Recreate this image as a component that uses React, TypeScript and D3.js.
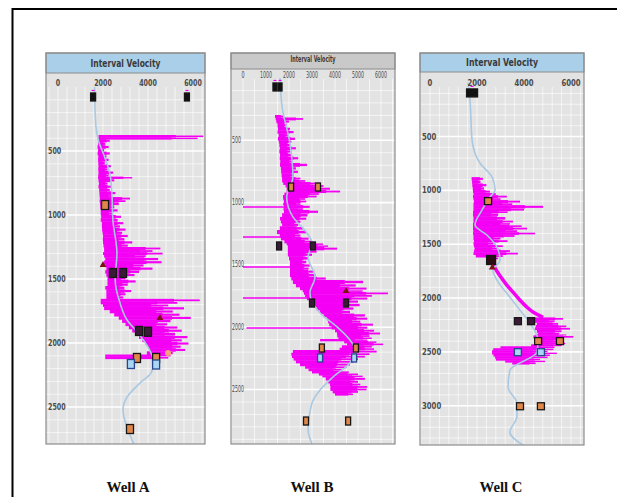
import React from 'react';
import * as d3 from 'd3';

type Pt = [number, number];           // [depth, velocity]
type Band = [number, number, number]; // [depth, low velocity, high velocity]
type Mark = [number, number, string]; // [depth, velocity, kind]

// ---- data ----
const wellNames = ['Well A', 'Well B', 'Well C'];
const panelTitle = 'Interval Velocity';
const velocityTicksAC = [0, 2000, 4000, 6000];
const velocityTicksB = [0, 1000, 2000, 3000, 4000, 5000, 6000];
const depthTicksAB = [500, 1000, 1500, 2000, 2500];
const depthTicksC = [500, 1000, 1500, 2000, 2500, 3000];

// Well A
const wellATrend: Pt[] = [
  [0, 1620], [300, 1680], [420, 1800], [550, 2080], [700, 2330], [850, 2400], [1040, 2440],
  [1300, 2620], [1500, 2540], [1690, 2760], [1820, 3070], [1922, 3560], [2031, 4000],
  [2150, 4250], [2230, 4150], [2313, 3640], [2422, 3070], [2523, 2890], [2680, 3110], [2820, 3450],
];
const wellABand: Band[] = [
  [375, 1800, 6450], [392, 1790, 6200], [408, 1780, 2300], [430, 1780, 2100], [455, 1760, 2250],
  [480, 1780, 2050], [505, 1760, 2300], [530, 1790, 2150], [555, 1780, 2250], [580, 1790, 2080],
  [605, 1800, 2350], [630, 1790, 2200], [655, 1800, 2450], [680, 1790, 2250], [700, 1780, 3300],
  [715, 1800, 2500], [740, 1820, 2200], [765, 1800, 2350], [790, 1830, 2300], [815, 1840, 2550],
  [840, 1850, 2400], [860, 1860, 3200], [880, 1850, 3000], [900, 1870, 2700], [925, 1880, 2500],
  [950, 1900, 2650], [975, 1900, 2400], [1000, 1920, 2800], [1025, 1900, 2650], [1050, 1950, 2900],
  [1075, 1950, 2750], [1100, 1960, 3000], [1125, 1980, 2850], [1150, 2000, 3100], [1175, 1990, 2950],
  [1200, 2000, 3300], [1225, 2020, 3100], [1250, 2050, 4550], [1270, 2050, 4200], [1290, 2000, 4650],
  [1310, 2050, 3900], [1330, 2100, 4450], [1355, 2050, 4600], [1380, 2100, 3800], [1405, 2150, 4200],
  [1430, 2100, 3600], [1455, 2150, 3400], [1480, 2200, 3000], [1505, 2200, 3450], [1530, 2200, 3100],
  [1555, 2100, 2950], [1580, 2150, 3250], [1605, 2150, 3000], [1630, 2150, 2900], [1655, 1900, 6300],
  [1675, 1900, 5300], [1695, 2000, 4900], [1715, 2050, 5600], [1740, 2300, 5100], [1765, 2500, 5400],
  [1790, 2700, 5900], [1815, 2850, 5000], [1840, 3000, 4850], [1865, 3150, 5300], [1890, 3300, 5500],
  [1915, 3450, 5200], [1940, 3600, 5750], [1965, 3750, 5500], [1990, 3900, 5800], [2015, 4000, 5450],
  [2040, 4050, 5650], [2065, 3950, 5100], [2090, 2100, 5000], [2105, 2100, 4900],
];
const wellAMarks: Mark[] = [
  [78, 1560, 'top'], [78, 5730, 'top'], [922, 2090, 'orange'], [1390, 2000, 'tri'],
  [1453, 2440, 'black'], [1453, 2890, 'black'], [1805, 4530, 'tri'], [1906, 3600, 'black'],
  [1912, 4000, 'black'], [2078, 4890, 'dot'], [2117, 3510, 'orange'], [2117, 4360, 'orange'],
  [2164, 3240, 'blue'], [2168, 4360, 'blue'], [2672, 3200, 'orange'],
];

// Well B
const wellBTrend: Pt[] = [
  [0, 1610], [233, 1700], [522, 2040], [795, 2170], [955, 1900], [1115, 2170], [1244, 2780],
  [1324, 3000], [1437, 2830], [1597, 3130], [1725, 2910], [1886, 3350], [1998, 4090], [2103, 4650],
  [2183, 4870], [2287, 4650], [2400, 3910], [2504, 3350], [2608, 3000], [2825, 2830], [2937, 3000],
];
const wellBBand: Band[] = [
  [297, 1390, 1740], [317, 1420, 2610], [337, 1450, 2000], [360, 1500, 1900], [393, 1520, 2040],
  [420, 1500, 2200], [445, 1550, 1950], [473, 1520, 2260], [500, 1560, 2100], [522, 1580, 2040],
  [550, 1600, 2300], [575, 1580, 2050], [602, 1610, 2100], [630, 1600, 2400], [655, 1620, 2150],
  [682, 1610, 2780], [710, 1650, 2300], [738, 1660, 2390], [765, 1680, 2200], [795, 1700, 2500],
  [815, 1700, 2700], [835, 1750, 3350], [855, 1850, 3500], [875, 1900, 3780], [899, 1900, 4220],
  [920, 1800, 3300], [939, 1740, 3200], [960, 1750, 2700], [979, 1780, 2750], [1000, 1750, 2500],
  [1020, 1780, 2900], [1045, 1760, 2600], [1059, 1780, 3260], [1085, 1700, 2800], [1115, 1610, 2750],
  [1140, 1650, 2500], [1164, 1700, 2400], [1190, 1600, 2600], [1220, 1480, 2750], [1250, 1600, 2500],
  [1276, 1650, 2850], [1300, 1800, 3000], [1324, 1900, 3480], [1340, 1950, 3700], [1356, 1950, 4090],
  [1380, 1950, 3200], [1404, 1950, 3000], [1430, 2000, 2850], [1461, 2040, 2750], [1490, 2040, 2900],
  [1517, 2040, 2850], [1540, 2040, 3100], [1565, 2040, 3150], [1595, 2100, 3600], [1621, 2170, 5220],
  [1650, 2300, 4900], [1677, 2480, 5370], [1700, 2600, 5200], [1717, 2650, 6300], [1737, 2700, 5600],
  [1757, 2780, 5400], [1780, 2900, 5000], [1806, 3040, 5070], [1835, 3200, 4800], [1862, 3350, 4650],
  [1890, 3500, 5300], [1918, 3650, 5400], [1942, 3700, 5100], [1966, 3750, 5650], [1990, 3850, 5400],
  [2015, 4000, 5700], [2038, 4090, 5960], [2060, 4100, 5500], [2079, 4150, 5600], [2095, 3350, 5400],
  [2110, 4400, 5800], [2127, 4520, 6090], [2145, 4300, 5600], [2165, 4200, 5700], [2183, 2170, 5810],
  [2205, 2100, 5500], [2225, 2130, 5300], [2245, 2200, 5000], [2265, 2300, 4800], [2287, 2480, 4650],
  [2310, 2700, 4500], [2330, 2850, 4300], [2350, 3000, 4600], [2368, 3300, 5000], [2385, 3450, 5200],
  [2400, 3600, 5300], [2425, 3700, 5000], [2448, 3780, 5100], [2468, 3800, 5400], [2488, 3800, 5370],
  [2508, 3900, 5000], [2528, 4000, 4780],
];
const wellBSpikes: Band[] = [
  [1035, 0, 1800], [1276, 0, 2000], [1517, 0, 2100], [1766, 0, 3000], [2006, 150, 4200],
];
const wellBMarks: Mark[] = [
  [72, 1390, 'top'], [72, 1610, 'top'], [875, 2090, 'orange'], [875, 3260, 'orange'],
  [1348, 1570, 'black'], [1348, 3040, 'black'], [1710, 4480, 'tri'], [1806, 3000, 'black'],
  [1806, 4480, 'black'], [2167, 3430, 'orange'], [2167, 4910, 'orange'], [2247, 3350, 'blue'],
  [2247, 4830, 'blue'], [2753, 2740, 'orange'], [2753, 4570, 'orange'],
];

// Well C
const wellCTrend: Pt[] = [
  [0, 1620], [160, 1700], [533, 1790], [748, 2130], [876, 2640], [997, 2770], [1062, 2550],
  [1184, 2210], [1322, 1915], [1415, 2420], [1527, 2850], [1648, 2980], [1741, 2680], [1834, 2850],
  [1992, 3400], [2113, 3830], [2234, 4260], [2392, 4600], [2503, 4550], [2670, 3400], [2828, 3320],
  [2977, 3700], [3100, 3700], [3246, 3400], [3367, 3960],
];
const wellCBand: Band[] = [
  [877, 1770, 2250], [905, 1790, 2150], [935, 1800, 2400], [965, 1820, 2300], [997, 1830, 2550],
  [1020, 1850, 2800], [1044, 1830, 3270], [1068, 1850, 3000], [1090, 1870, 3830], [1115, 1850, 3500],
  [1137, 1850, 4810], [1165, 1850, 4000], [1190, 1830, 3300], [1211, 1830, 2900], [1240, 1850, 3200],
  [1276, 1850, 3530], [1300, 1830, 3400], [1320, 1830, 3900], [1341, 1830, 4130], [1365, 1840, 3700],
  [1388, 1830, 4470], [1410, 1850, 3600], [1434, 1850, 3000], [1458, 1870, 3300], [1481, 1850, 2700],
  [1505, 1870, 3100], [1527, 1900, 2900], [1550, 1870, 3400], [1574, 1850, 3740], [1597, 1950, 3100],
  [1620, 2400, 2900], [1640, 2500, 2750],
];
const wellCDiagonal: Pt[] = [
  [1650, 2620], [1722, 2770], [1800, 3000], [1880, 3270], [1950, 3550], [2020, 3830], [2080, 4100],
  [2130, 4380], [2180, 4810],
];
const wellCLowerBand: Band[] = [
  [2180, 4380, 5660], [2203, 4450, 5300], [2226, 4550, 5450], [2250, 4500, 5800], [2272, 4470, 5960],
  [2295, 4550, 5600], [2319, 4600, 5500], [2335, 4500, 5800], [2347, 4400, 6100], [2370, 4550, 5700],
  [2392, 4600, 5500], [2410, 4550, 5750], [2430, 4300, 5600], [2448, 3000, 5300], [2466, 2690, 5250],
  [2485, 2640, 5000], [2503, 2640, 5400], [2520, 2700, 5100], [2540, 2770, 5000], [2559, 2800, 4680],
  [2578, 3200, 4900], [2596, 3500, 4500],
];
const wellCMarks: Mark[] = [
  [95, 1790, 'topwide'], [1100, 2470, 'orange'], [1647, 2600, 'big'], [1716, 2650, 'tri'],
  [2215, 3740, 'black'], [2215, 4300, 'black'], [2400, 4600, 'orange'], [2400, 5530, 'orange'],
  [2503, 3740, 'blue'], [2503, 4720, 'blue'], [3005, 3830, 'orange'], [3005, 4720, 'orange'],
];

// ---- layout ----
type Cfg = {
  id: string;
  box: [number, number, number, number];
  headH: number;
  headFill: string;
  titleSize: number;
  titleLen: number;
  titleY: number;
  xr: [number, number];
  yr: [number, number];
  dTop: number;
  gridTop: number;
  gridV: number;
  tickSize: number;
  tickWeight: string;
  charW: number;
  xLabelY: number;
  yLabelX: number;
  mw: number;
  mh: number;
  topW: number;
};

const cfgA: Cfg = {
  id: 'A', box: [46, 53, 205, 444], headH: 20, headFill: '#a9cfe9', titleSize: 10, titleLen: 70, titleY: 63,
  xr: [58, 193], yr: [87, 407], dTop: 2500, gridTop: 87, gridV: 400, tickSize: 9, tickWeight: 'bold', charW: 4.4,
  xLabelY: 83, yLabelX: 48, mw: 7, mh: 9, topW: 5,
};
const cfgB: Cfg = {
  id: 'B', box: [231, 53, 395, 444], headH: 16, headFill: '#c9c9c9', titleSize: 8, titleLen: 45, titleY: 59,
  xr: [243, 381], yr: [78, 389.5], dTop: 2500, gridTop: 79, gridV: 500, tickSize: 8, tickWeight: 'normal', charW: 3,
  xLabelY: 75, yLabelX: 232, mw: 5, mh: 8, topW: 4,
};
const cfgC: Cfg = {
  id: 'C', box: [420, 53, 584, 445], headH: 19, headFill: '#a9cfe9', titleSize: 10, titleLen: 72, titleY: 62.5,
  xr: [430, 571], yr: [82.7, 405.7], dTop: 3000, gridTop: 87, gridV: 400, tickSize: 9, tickWeight: 'bold', charW: 4.8,
  xLabelY: 83, yLabelX: 422, mw: 7, mh: 7, topW: 5,
};

const MAGENTA = '#f400f4';
// share of each sample row drawn solid; the rest is a thinner spike
const CORE = 0.74;

type PanelProps = {
  cfg: Cfg;
  trend: Pt[];
  bands: Band[][];
  spikes?: Band[];
  diag?: Pt[];
  marks: Mark[];
  velTicks: number[];
  depthTicks: number[];
};

function Panel({ cfg, trend, bands, spikes = [], diag = [], marks, velTicks, depthTicks }: PanelProps) {
  const [x0, y0, x1, y1] = cfg.box;
  const x = d3.scaleLinear().domain([0, 6000]).range(cfg.xr);
  const y = d3.scaleLinear().domain([0, cfg.dTop]).range(cfg.yr);
  const top = y0 + cfg.headH;
  const vGrid = d3.range(Math.ceil(x.invert(x0) / cfg.gridV) * cfg.gridV, x.invert(x1), cfg.gridV);
  const dGrid = d3.range(100, y.invert(y1), 100);
  const line = d3.line<Pt>().x((p) => x(p[1])).y((p) => y(p[0])).curve(d3.curveMonotoneY);
  const clip = `clip${cfg.id}`;
  const font = "'DejaVu Sans Condensed', 'Liberation Sans Narrow', 'Liberation Sans', sans-serif";

  const markEl = (m: Mark, i: number) => {
    const [d, v, k] = m;
    const cx = x(v);
    const cy = y(d);
    if (k === 'tri') {
      return <path key={i} d={d3.symbol(d3.symbolTriangle, 20)() || ''} transform={`translate(${cx},${cy})`} fill="#7a1414" />;
    }
    if (k === 'dot') {
      return <circle key={i} cx={cx} cy={cy} r={3} fill="#f5a27a" />;
    }
    const sizes: Record<string, [number, number]> = {
      top: [cfg.topW, 8], topwide: [11, 8], big: [9, 9],
    };
    const [w, h] = sizes[k] || [cfg.mw, cfg.mh];
    const fills: Record<string, string> = {
      top: '#111', topwide: '#111', big: '#2a0f14', black: '#3a1a36', orange: '#e0874a', blue: '#a9d6f5',
    };
    const stroke = k === 'blue' ? '#27468c' : '#161616';
    return (
      <g key={i}>
        <rect x={cx - w / 2} y={cy - h / 2} width={w} height={h}
          fill={fills[k]} stroke={stroke} strokeWidth={1.3} />
        {k === 'top' || k === 'topwide' ? (
          <path d={`M${cx - 1.5},${cy - h / 2 - 2.5}h3`} stroke={MAGENTA} strokeWidth={1.2} />
        ) : null}
      </g>
    );
  };

  const rowEls = (rows: Band[], bi: number) =>
    rows.map((r, i) => {
      const next = i + 1 < rows.length ? rows[i + 1][0] : r[0] + 18;
      const ya = y(r[0]);
      const h = y(next) - ya + 0.4;
      const xl = x(r[1]);
      const xr = x(r[2]);
      const xm = xl + (xr - xl) * CORE;
      return (
        <g key={`b${bi}-${i}`}>
          <rect x={xl} y={ya} width={xm - xl} height={h} fill={MAGENTA} />
          <rect x={xm - 0.5} y={ya + h * 0.2} width={xr - xm + 0.5} height={h * 0.6} fill={MAGENTA} />
        </g>
      );
    });

  return (
    <g>
      <defs>
        <clipPath id={clip}>
          <rect x={x0} y={top} width={x1 - x0} height={y1 - top} />
        </clipPath>
      </defs>
      <rect x={x0} y={top} width={x1 - x0} height={y1 - top} fill="#e3e3e3" />
      <g clipPath={`url(#${clip})`}>
        {vGrid.map((v) => (
          <line key={`v${v}`} x1={x(v)} x2={x(v)} y1={cfg.gridTop} y2={y1} stroke="#fff" strokeOpacity={0.8} strokeWidth={0.8} />
        ))}
        {dGrid.map((d) => (
          <line key={`d${d}`} x1={x0} x2={x1} y1={y(d)} y2={y(d)} stroke="#fff"
            strokeOpacity={d % 500 === 0 ? 1 : 0.8} strokeWidth={d % 500 === 0 ? 1.6 : 0.8} />
        ))}
        {bands.map(rowEls)}
        {spikes.map((s, i) => (
          <line key={`s${i}`} x1={x(s[1])} x2={x(s[2])} y1={y(s[0])} y2={y(s[0])} stroke={MAGENTA} strokeWidth={1.6} />
        ))}
        {diag.length > 0 && <path d={line(diag) || ''} fill="none" stroke={MAGENTA} strokeWidth={3.5} />}
        <path d={line(trend) || ''} fill="none" stroke="#a9c9e2" strokeWidth={1.6} />
        {marks.map(markEl)}
      </g>
      <rect x={x0} y={y0} width={x1 - x0} height={cfg.headH} fill={cfg.headFill} stroke="#8c8c8c" strokeWidth={1} />
      <text x={(x0 + x1) / 2} y={cfg.titleY} textAnchor="middle" dominantBaseline="central" fontFamily={font}
        fontWeight="bold" fontSize={cfg.titleSize} fill="#3a3a3a" textLength={cfg.titleLen} lengthAdjust="spacingAndGlyphs">
        {panelTitle}
      </text>
      {velTicks.map((v) => {
        const s = String(v);
        return (
          <text key={`xt${v}`} x={x(v)} y={cfg.xLabelY} textAnchor="middle" dominantBaseline="central" fontFamily={font}
            fontSize={cfg.tickSize} fontWeight={cfg.tickWeight} fill="#4a4a4a"
            textLength={s.length * cfg.charW} lengthAdjust="spacingAndGlyphs">
            {s}
          </text>
        );
      })}
      {depthTicks.map((d) => {
        const s = String(d);
        return (
          <text key={`yt${d}`} x={cfg.yLabelX} y={y(d)} dominantBaseline="central" fontFamily={font}
            fontSize={cfg.tickSize} fontWeight={cfg.tickWeight} fill="#4a4a4a"
            textLength={s.length * cfg.charW} lengthAdjust="spacingAndGlyphs">
            {s}
          </text>
        );
      })}
      <rect x={x0} y={y0} width={x1 - x0} height={y1 - y0} fill="none" stroke="#8c8c8c" strokeWidth={1.2} />
    </g>
  );
}

export default function App() {
  const nameX = [128, 312, 501];
  return (
    <svg width={617} height={497} viewBox="0 0 617 497"
      style={{ position: 'absolute', left: 0, top: 0, background: '#fff' }}>
      <rect x={0} y={0} width={617} height={497} fill="#fff" />
      <rect x={12.5} y={9} width={700} height={600} fill="none" stroke="#000" strokeWidth={2} />
      <Panel cfg={cfgA} trend={wellATrend} bands={[wellABand]} marks={wellAMarks}
        velTicks={velocityTicksAC} depthTicks={depthTicksAB} />
      <Panel cfg={cfgB} trend={wellBTrend} bands={[wellBBand]} spikes={wellBSpikes} marks={wellBMarks}
        velTicks={velocityTicksB} depthTicks={depthTicksAB} />
      <Panel cfg={cfgC} trend={wellCTrend} bands={[wellCBand, wellCLowerBand]} diag={wellCDiagonal} marks={wellCMarks}
        velTicks={velocityTicksAC} depthTicks={depthTicksC} />
      {wellNames.map((n, i) => (
        <text key={n} x={nameX[i]} y={492} textAnchor="middle" fontFamily="'Liberation Serif', 'Times New Roman', serif"
          fontWeight="bold" fontSize={15} fill="#111" textLength={43} lengthAdjust="spacingAndGlyphs">
          {n}
        </text>
      ))}
    </svg>
  );
}
